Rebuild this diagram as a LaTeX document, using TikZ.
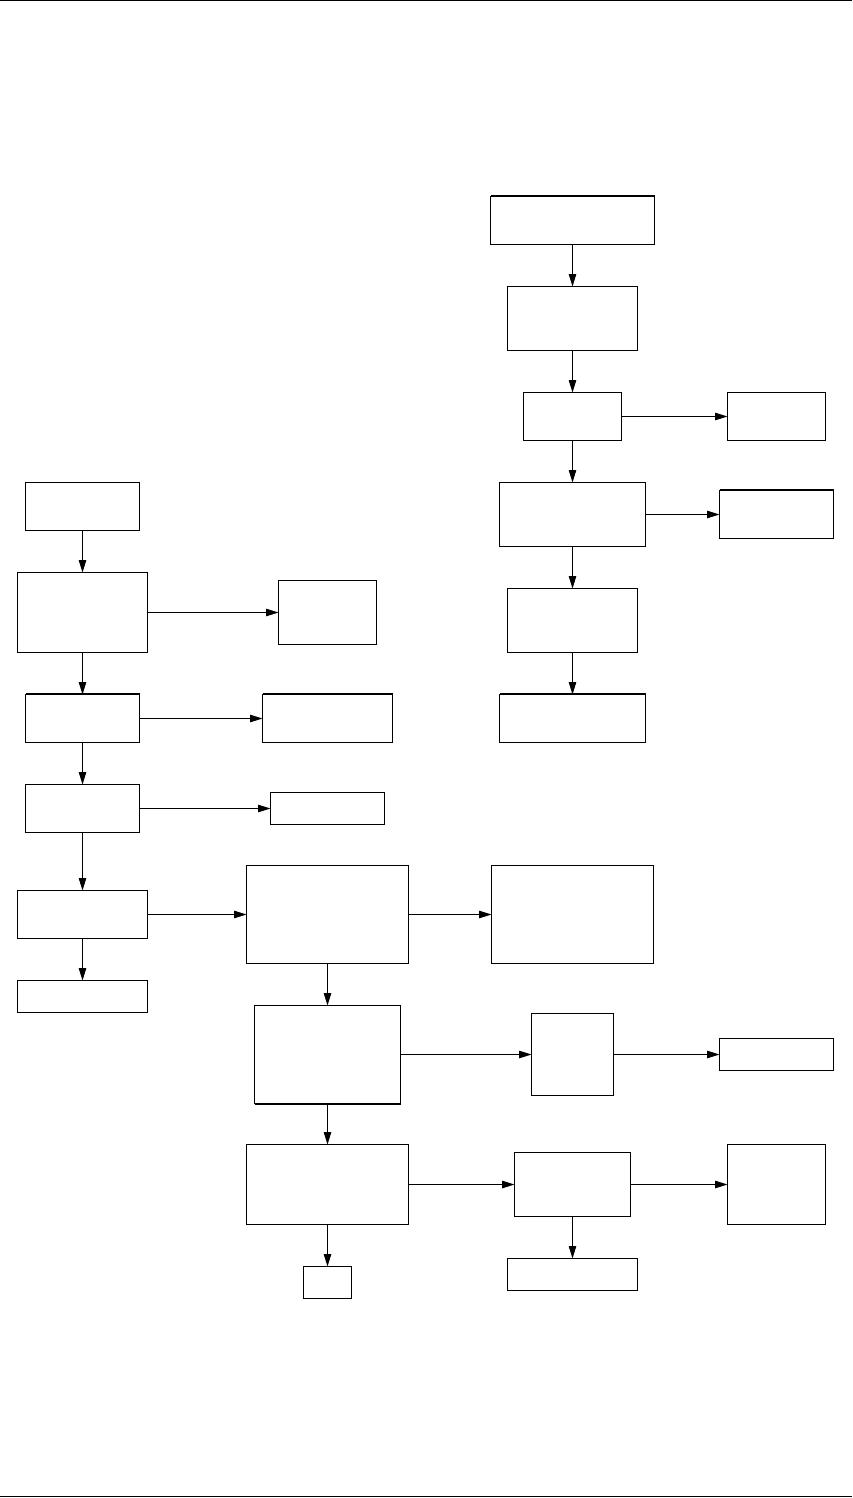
\documentclass[tikz,border=0pt]{standalone}
\usetikzlibrary{arrows.meta}
\tikzset{
  box/.style={draw, line width=1pt, inner sep=0pt, outer sep=0pt, rectangle},
  conn/.style={line width=1pt, -{Triangle[length=12.5pt,width=7.5pt]}},
  thickedge/.style={line width=2pt},
  rule/.style={line width=1pt}
}
\newcommand{\bx}[5]{\node[box, minimum width=#4pt, minimum height=#5pt] (#1) at (#2,#3) {};}
\begin{document}
\begin{tikzpicture}[x=1pt,y=-1pt]
\useasboundingbox (0,0) rectangle (852,1498);
% page rules
\coordinate (tl) at (0,0.5); \coordinate (tr) at (852,0.5);
\coordinate (bl) at (0,1496.5); \coordinate (br) at (852,1496.5);
\draw[rule] (tl) -- (tr);
\draw[rule] (bl) -- (br);
% right column
\bx{R1}{572.5}{220.5}{164}{48}
\bx{R2}{572.5}{318.5}{130}{64}
\bx{R3}{572.5}{416.5}{98}{48}
\bx{R4}{776.5}{416.5}{98}{48}
\bx{R5}{572.5}{514.5}{146}{64}
\bx{R6}{776.5}{514.5}{114}{48}
\bx{R7}{572.5}{620.5}{130}{64}
\bx{R8}{572.5}{718.5}{146}{48}
% left column
\bx{L1}{82.5}{506.5}{114}{48}
\bx{L2}{82.5}{612.5}{130}{80}
\bx{L2R}{327.5}{612.5}{98}{64}
\bx{L3}{82.5}{718.5}{114}{48}
\bx{L3R}{327.5}{718.5}{130}{48}
\bx{L4}{82.5}{808.5}{114}{48}
\bx{L4R}{327.5}{808.5}{114}{32}
\bx{L5}{82.5}{914.5}{130}{48}
\bx{L6}{82.5}{996.5}{130}{32}
% centre
\bx{C1}{327.5}{914.5}{162}{98}
\bx{C1R}{572.5}{914.5}{162}{98}
\bx{C2}{327.5}{1054.5}{146}{98}
\bx{C2R}{572.5}{1054.5}{82}{82}
\bx{C2RR}{776.5}{1054.5}{114}{32}
\bx{C3}{327.5}{1184.5}{162}{80}
\bx{C3R}{572.5}{1184.5}{116}{64}
\bx{C3RR}{776.5}{1184.5}{98}{80}
\bx{C3B}{327.5}{1282.5}{48}{32}
\bx{C3RB}{572.5}{1274.5}{130}{32}
% thick edges
\foreach \n in {R1,R6,R8,L3,L3R}{
  \draw[thickedge] ([yshift=0.5pt]\n.north west) -- ([yshift=0.5pt]\n.north east);
}
\draw[thickedge] ([yshift=-0.5pt]C2.south west) -- ([yshift=-0.5pt]C2.south east);
% vertical connectors
\foreach \a/\b in {R1/R2,R2/R3,R3/R5,R5/R7,R7/R8,L1/L2,L2/L3,L3/L4,L4/L5,L5/L6,C1/C2,C2/C3,C3/C3B,C3R/C3RB}{
  \draw[conn] (\a.south) -- (\a.south |- \b.north);
}
% horizontal connectors
\foreach \a/\b in {R3/R4,R5/R6,L2/L2R,L3/L3R,L4/L4R,L5/C1,C1/C1R,C2/C2R,C2R/C2RR,C3/C3R,C3R/C3RR}{
  \draw[conn] (\a.east) -- (\a.east -| \b.west);
}
\end{tikzpicture}
\end{document}
